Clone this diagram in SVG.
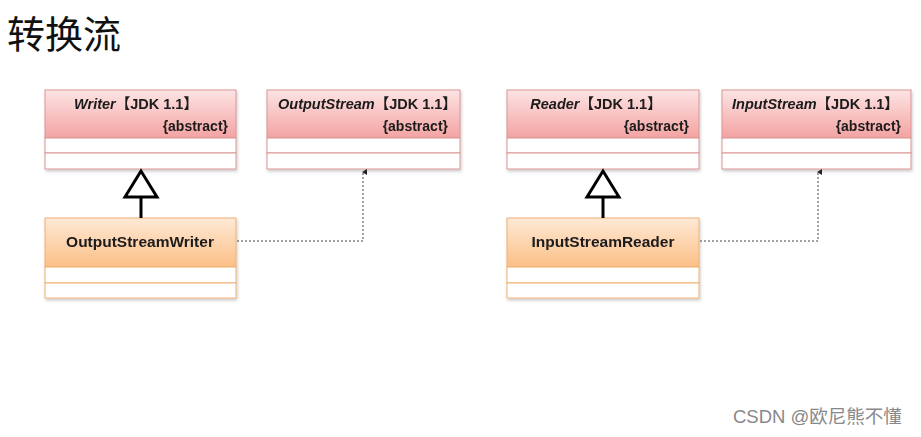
<svg xmlns="http://www.w3.org/2000/svg" width="921" height="437" viewBox="0 0 921 437">
<style>
.hdr{fill:url(#pink);stroke:#d99594;stroke-width:1}
.hdr2{fill:url(#orange);stroke:#f0b070;stroke-width:1}
.row{fill:#fff;stroke:#d99594;stroke-width:1}
.row2{fill:#fff;stroke:#f0b070;stroke-width:1}
.t{font-family:"Liberation Sans",Arial,"Noto Sans CJK SC",sans-serif;font-size:14.5px;font-weight:bold;fill:#1a1a1a}
.a{font-size:14px}
.n{font-size:15.5px}
.i{font-style:italic}
.dash{fill:none;stroke:#444;stroke-width:1;stroke-dasharray:2,2}
.gen{fill:none;stroke:#000;stroke-width:3}
</style>
<defs>
<linearGradient id="pink" x1="0" y1="0" x2="0" y2="1">
<stop offset="0" stop-color="#fde4e4"/>
<stop offset="1" stop-color="#f3a3a2"/>
</linearGradient>
<linearGradient id="orange" x1="0" y1="0" x2="0" y2="1">
<stop offset="0" stop-color="#fee9d6"/>
<stop offset="1" stop-color="#fbbf86"/>
</linearGradient>
<filter id="sh" x="-5%" y="-5%" width="110%" height="115%">
<feDropShadow dx="1" dy="2" stdDeviation="1.5" flood-color="#000" flood-opacity="0.2"/>
</filter>
<marker id="arr" markerWidth="6" markerHeight="6" refX="3" refY="1" orient="auto-start-reverse" viewBox="0 0 6 6" markerUnits="userSpaceOnUse">
<path d="M0,5 L3,0 L6,5 Z" fill="#222"/>
</marker>
</defs>
<rect width="921" height="437" fill="#fff"/>
<text x="7" y="48" font-family="'Noto Sans CJK SC',sans-serif" font-size="38" fill="#111">转换流</text>

<g id="writer" filter="url(#sh)">
<rect class="hdr" x="45" y="90" width="191" height="48"/>
<rect class="row" x="45" y="138" width="191" height="15"/>
<rect class="row" x="45" y="153" width="191" height="16"/>
<text class="t" x="136" y="109" text-anchor="middle"><tspan class="i">Writer</tspan>【JDK 1.1】</text>
<text class="t a" x="228" y="131" text-anchor="end">{abstract}</text>
</g>

<g id="outputstream" filter="url(#sh)">
<rect class="hdr" x="267" y="90" width="193" height="48"/>
<rect class="row" x="267" y="138" width="193" height="15"/>
<rect class="row" x="267" y="153" width="193" height="16"/>
<text class="t" x="278" y="109"><tspan class="i">OutputStream</tspan>【JDK 1.1】</text>
<text class="t a" x="448" y="131" text-anchor="end">{abstract}</text>
</g>

<g id="outputstreamwriter" filter="url(#sh)">
<rect class="hdr2" x="45" y="218" width="191" height="49"/>
<rect class="row2" x="45" y="267" width="191" height="16"/>
<rect class="row2" x="45" y="283" width="191" height="15"/>
<text class="t n" x="140" y="247" text-anchor="middle">OutputStreamWriter</text>
</g>

<g id="reader" filter="url(#sh)">
<rect class="hdr" x="507" y="90" width="192" height="48"/>
<rect class="row" x="507" y="138" width="192" height="15"/>
<rect class="row" x="507" y="153" width="192" height="16"/>
<text class="t" x="596" y="109" text-anchor="middle"><tspan class="i">Reader</tspan>【JDK 1.1】</text>
<text class="t a" x="689" y="131" text-anchor="end">{abstract}</text>
</g>

<g id="inputstream" filter="url(#sh)">
<rect class="hdr" x="722" y="90" width="189" height="48"/>
<rect class="row" x="722" y="138" width="189" height="15"/>
<rect class="row" x="722" y="153" width="189" height="16"/>
<text class="t" x="732" y="109"><tspan class="i">InputStream</tspan>【JDK 1.1】</text>
<text class="t a" x="901" y="131" text-anchor="end">{abstract}</text>
</g>

<g id="inputstreamreader" filter="url(#sh)">
<rect class="hdr2" x="507" y="218" width="192" height="49"/>
<rect class="row2" x="507" y="267" width="192" height="16"/>
<rect class="row2" x="507" y="283" width="192" height="15"/>
<text class="t n" x="603" y="247" text-anchor="middle">InputStreamReader</text>
</g>

<g id="connectors">
<line class="gen" x1="141" y1="218" x2="141" y2="197"/>
<path class="gen" d="M141,171 L125,197 L157,197 Z" style="fill:#fff"/>
<line class="gen" x1="603" y1="218" x2="603" y2="197"/>
<path class="gen" d="M603,171 L587,197 L619,197 Z" style="fill:#fff"/>
<path class="dash" d="M237,241 H363 V172" marker-end="url(#arr)"/>
<path class="dash" d="M700,241 H818 V172" marker-end="url(#arr)"/>
</g>

<text x="733" y="423" font-family="'Liberation Sans','Noto Sans CJK SC',sans-serif" font-size="18.5" fill="#888">CSDN @欧尼熊不懂</text>
</svg>
